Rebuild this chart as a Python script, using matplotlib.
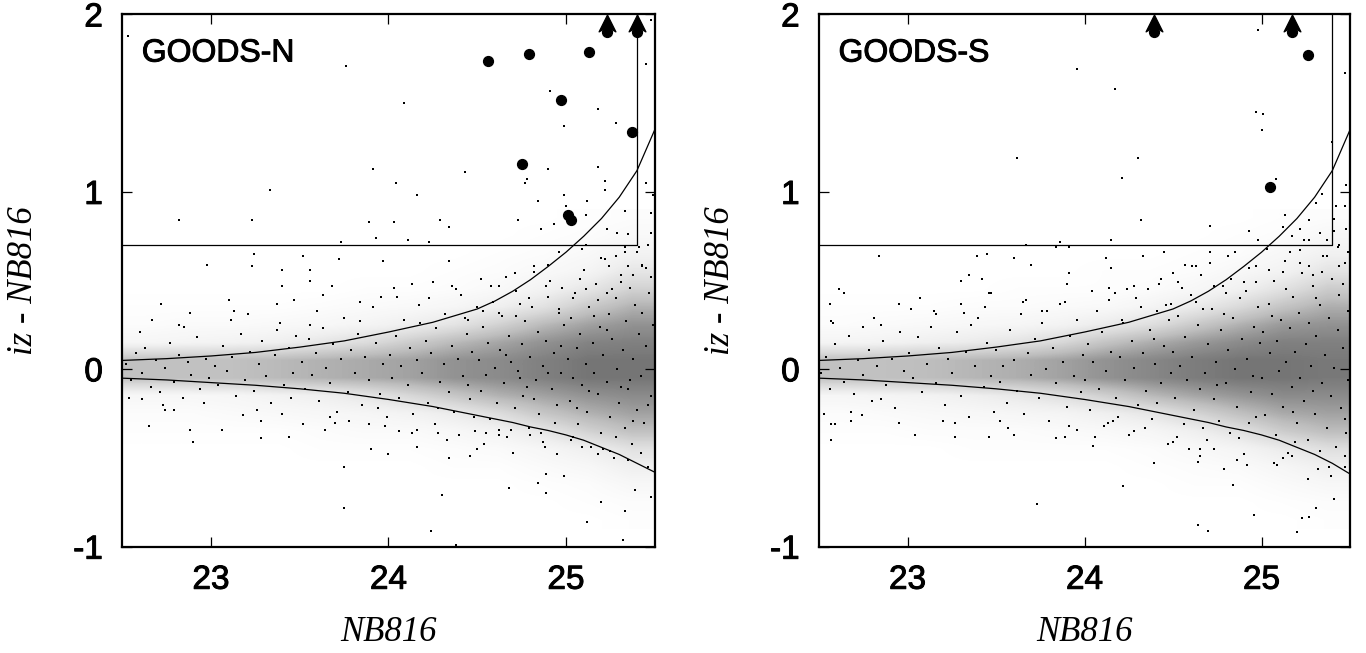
import matplotlib.pyplot as plt
import matplotlib.patheffects as pe
from matplotlib.path import Path
import numpy as np

plt.rcParams['axes.unicode_minus'] = False

# ---- GOODS-N ----
gn_big_x = [24.56, 24.79, 25.13, 24.97, 25.37, 24.75, 25.01, 25.03]
gn_big_y = [1.74, 1.78, 1.79, 1.52, 1.34, 1.16, 0.87, 0.84]
gn_limit_x = [25.23, 25.40]
gn_limit_y = [1.90, 1.90]

# sparse sources read one by one
gn_field = [(22.53, 1.88), (23.76, 1.71), (24.09, 1.50), (23.33, 1.01), (23.91, 1.13), (24.04, 1.05),
            (24.16, 0.98), (24.43, 1.11), (22.82, 0.84), (23.23, 0.84), (23.89, 0.83), (24.03, 0.83),
            (24.29, 0.84), (24.34, 0.80), (23.73, 0.72), (23.93, 0.74), (24.11, 0.73), (24.23, 0.72),
            (24.73, 0.84), (24.77, 1.05), (24.78, 1.07), (24.84, 0.95), (24.90, 1.13), (24.91, 1.57),
            (24.99, 1.37), (24.99, 0.98), (25.00, 0.92), (25.12, 0.95), (25.18, 1.47), (25.18, 1.14),
            (25.22, 1.01), (25.22, 1.06), (25.28, 1.39), (25.33, 0.89), (25.45, 1.72), (25.45, 1.05),
            (25.48, 1.97), (24.86, 0.79), (24.93, 0.82), (25.11, 0.87), (25.23, 0.79), (25.29, 0.77),
            (25.35, 0.76), (25.49, 0.98), (25.48, 0.88), (25.48, 0.77),
            (23.24, 0.65), (23.23, 0.58), (22.98, 0.59), (23.52, 0.64), (23.72, 0.62), (23.97, 0.61),
            (23.56, 0.56), (23.56, 0.50), (23.40, 0.56), (23.40, 0.47), (23.68, 0.47), (23.10, 0.39),
            (22.72, 0.37), (22.88, 0.32), (22.67, 0.28), (22.82, 0.25), (23.13, 0.33), (23.37, 0.37),
            (23.47, 0.39), (23.63, 0.42), (23.84, 0.38), (23.96, 0.41), (24.03, 0.46), (24.13, 0.48),
            (24.25, 0.49), (24.34, 0.61), (24.36, 0.47), (24.52, 0.51), (24.62, 0.47), (24.71, 0.54),
            (24.82, 0.58), (24.90, 0.59), (24.96, 0.66), (25.09, 0.68), (25.20, 0.63), (25.24, 0.58),
            (25.28, 0.64), (25.33, 0.69), (25.40, 0.66), (25.46, 0.70), (25.43, 0.58), (25.38, 0.53),
            (25.31, 0.49), (25.23, 0.43), (25.18, 0.39), (25.11, 0.45), (25.04, 0.40), (24.96, 0.34),
            (24.89, 0.47), (24.79, 0.40), (24.72, 0.30), (24.62, 0.32), (24.50, 0.35), (24.45, 0.28),
            (22.65, -0.32), (22.90, -0.41), (22.88, -0.34), (23.06, -0.34), (23.28, -0.39), (23.44, -0.38),
            (23.64, -0.34), (23.75, -0.55), (23.75, -0.78), (23.90, -0.45), (24.00, -0.48), (24.16, -0.44),
            (24.24, -0.91), (24.30, -0.71), (24.34, -0.50), (24.38, -0.99), (24.46, -0.49), (24.50, -0.45),
            (24.68, -0.67), (24.84, -0.64), (24.89, -0.59), (24.89, -0.70), (24.99, -0.60), (24.95, -0.48),
            (25.12, -0.86), (25.20, -0.75), (25.32, -0.96), (25.33, -0.80), (25.39, -0.68), (25.48, -0.72),
            (25.35, -0.51), (25.42, -0.47), (25.25, -0.46), (25.18, -0.48), (25.09, -0.44), (25.04, -0.38),
            (24.87, -0.41), (24.80, -0.37), (24.69, -0.34), (24.62, -0.37), (24.55, -0.36), (24.40, -0.37),
            (24.28, -0.36), (24.16, -0.34), (24.06, -0.35), (23.98, -0.32), (23.89, -0.31), (23.78, -0.29),
            (23.67, -0.27), (23.52, -0.31), (23.40, -0.25), (23.28, -0.29), (23.18, -0.26), (22.96, -0.19),
            (22.79, -0.23), (22.74, -0.23), (22.61, -0.17), (22.54, -0.16)]

# sample of the crowded locus
gn_core = [(22.52, 0.03), (22.55, -0.06), (22.58, 0.09), (22.61, -0.02), (22.63, 0.12), (22.66, -0.10),
           (22.69, 0.05), (22.71, -0.13), (22.74, 0.01), (22.77, 0.15), (22.79, -0.07), (22.82, 0.08),
           (22.84, -0.16), (22.87, 0.04), (22.89, -0.03), (22.92, 0.18), (22.94, -0.11), (22.97, 0.06),
           (22.99, -0.05), (22.60, 0.21), (22.85, 0.24), (22.73, -0.20),
           (23.02, 0.02), (23.04, -0.09), (23.07, 0.13), (23.09, -0.01), (23.12, 0.07), (23.14, -0.15),
           (23.17, 0.20), (23.19, -0.06), (23.22, 0.10), (23.24, -0.12), (23.27, 0.03), (23.29, 0.16),
           (23.31, -0.04), (23.34, -0.19), (23.36, 0.08), (23.39, 0.26), (23.41, -0.09), (23.44, 0.12),
           (23.46, -0.02), (23.48, 0.19), (23.11, 0.28), (23.26, -0.23), (23.37, 0.22), (23.45, -0.16),
           (23.21, 0.31),
           (23.51, 0.04), (23.53, -0.11), (23.55, 0.17), (23.57, -0.03), (23.59, 0.09), (23.61, -0.18),
           (23.63, 0.23), (23.65, 0.01), (23.67, -0.08), (23.69, 0.14), (23.71, -0.24), (23.73, 0.06),
           (23.75, 0.29), (23.77, -0.13), (23.79, 0.11), (23.81, -0.02), (23.83, 0.20), (23.85, -0.20),
           (23.87, 0.07), (23.89, -0.06), (23.91, 0.35), (23.93, 0.15), (23.95, -0.14), (23.97, 0.03),
           (23.99, -0.27), (23.60, 0.33), (23.70, -0.30), (23.84, 0.27), (23.94, -0.22), (23.56, 0.25),
           (24.01, 0.08), (24.02, -0.05), (24.04, 0.19), (24.06, -0.16), (24.07, 0.02), (24.09, 0.28),
           (24.11, -0.09), (24.12, 0.12), (24.14, -0.25), (24.16, 0.05), (24.17, 0.36), (24.19, -0.02),
           (24.21, 0.16), (24.22, -0.19), (24.24, 0.09), (24.26, -0.31), (24.27, 0.23), (24.29, -0.07),
           (24.31, 0.03), (24.32, 0.31), (24.34, -0.13), (24.36, 0.13), (24.37, -0.24), (24.39, 0.06),
           (24.41, 0.42), (24.42, -0.04), (24.44, 0.20), (24.46, -0.17), (24.47, 0.10), (24.49, -0.35),
           (24.05, 0.41), (24.13, -0.36), (24.23, 0.40), (24.33, -0.40), (24.43, 0.29), (24.48, -0.27),
           (24.18, 0.26), (24.28, -0.22), (24.38, 0.45), (24.45, -0.09),
           (24.51, 0.05), (24.52, -0.12), (24.53, 0.24), (24.55, -0.03), (24.56, 0.15), (24.57, -0.28),
           (24.59, 0.38), (24.60, 0.01), (24.61, -0.19), (24.63, 0.11), (24.64, 0.30), (24.65, -0.08),
           (24.67, -0.38), (24.68, 0.19), (24.69, 0.04), (24.71, -0.22), (24.72, 0.44), (24.73, -0.01),
           (24.75, 0.14), (24.76, -0.15), (24.77, 0.27), (24.79, -0.33), (24.80, 0.07), (24.81, 0.35),
           (24.83, -0.06), (24.84, 0.21), (24.85, -0.25), (24.87, 0.02), (24.88, -0.44), (24.89, 0.16),
           (24.91, 0.50), (24.92, -0.11), (24.93, 0.09), (24.95, -0.20), (24.96, 0.32), (24.97, -0.02),
           (24.99, 0.25), (24.54, -0.42), (24.58, 0.47), (24.62, -0.34), (24.66, 0.52), (24.70, -0.47),
           (24.74, 0.37), (24.78, -0.10), (24.82, 0.55), (24.86, -0.36), (24.90, 0.41), (24.94, -0.30),
           (24.98, 0.46), (24.66, 0.08), (24.74, -0.05), (24.82, -0.17), (24.90, -0.02), (24.97, 0.13),
           (24.53, 0.33),
           (25.01, 0.06), (25.02, -0.18), (25.03, 0.29), (25.04, -0.05), (25.05, 0.43), (25.06, 0.12),
           (25.07, -0.31), (25.08, 0.20), (25.09, -0.09), (25.10, 0.56), (25.11, 0.03), (25.12, -0.24),
           (25.13, 0.35), (25.14, -0.44), (25.15, 0.15), (25.16, -0.02), (25.17, 0.48), (25.18, -0.14),
           (25.19, 0.24), (25.20, -0.36), (25.21, 0.08), (25.22, 0.62), (25.23, -0.07), (25.24, 0.31),
           (25.25, -0.27), (25.26, 0.17), (25.27, -0.50), (25.28, 0.40), (25.29, 0.00), (25.30, -0.19),
           (25.31, 0.53), (25.32, 0.11), (25.33, -0.33), (25.34, 0.27), (25.35, -0.11), (25.36, 0.46),
           (25.37, -0.42), (25.38, 0.06), (25.39, 0.36), (25.40, -0.23), (25.41, 0.20), (25.42, -0.04),
           (25.43, 0.59), (25.44, -0.30), (25.45, 0.13), (25.46, -0.55), (25.47, 0.43), (25.48, -0.15),
           (25.49, 0.25), (25.03, -0.40), (25.08, 0.51), (25.13, -0.12), (25.18, 0.39), (25.23, 0.22),
           (25.28, -0.38), (25.33, 0.66), (25.38, -0.29), (25.43, 0.32), (25.48, 0.52), (25.06, -0.22),
           (25.16, 0.30), (25.26, 0.45), (25.36, -0.06), (25.46, -0.20), (25.11, 0.70), (25.21, -0.45),
           (25.31, -0.10), (25.41, 0.69), (25.45, 0.57), (25.35, 0.58)]

# how dark the crowded locus looks: rows y = 0.85 ... -0.85, columns NB816 = 22.625 ... 25.375
gn_density = [
    [0, 0, 0, 0, 0, 0, 0, 0, 0, 0, .01, .02],
    [0, 0, 0, 0, 0, 0, 0, 0, 0, .01, .02, .04],
    [0, 0, 0, 0, 0, 0, 0, 0, .01, .02, .04, .08],
    [0, 0, 0, 0, 0, 0, 0, .01, .02, .04, .07, .14],
    [0, 0, 0, 0, 0, .01, .01, .02, .04, .08, .14, .22],
    [.01, .01, .01, .01, .02, .03, .04, .06, .10, .16, .25, .32],
    [.02, .03, .03, .04, .05, .07, .10, .15, .22, .30, .36, .40],
    [.06, .07, .08, .10, .14, .18, .24, .30, .35, .40, .44, .45],
    [.28, .28, .28, .30, .32, .34, .36, .40, .42, .45, .48, .48],
    [.28, .28, .28, .30, .32, .34, .36, .40, .42, .45, .48, .48],
    [.05, .05, .06, .08, .10, .14, .20, .26, .32, .36, .40, .42],
    [.02, .02, .03, .04, .05, .06, .08, .12, .18, .26, .32, .36],
    [.01, .01, .01, .01, .02, .03, .03, .05, .08, .14, .22, .28],
    [0, 0, 0, 0, .01, .01, .01, .02, .03, .06, .10, .16],
    [0, 0, 0, 0, 0, 0, 0, .01, .01, .03, .05, .10],
    [0, 0, 0, 0, 0, 0, 0, 0, 0, .01, .02, .05],
    [0, 0, 0, 0, 0, 0, 0, 0, 0, 0, .01, .02],
    [0, 0, 0, 0, 0, 0, 0, 0, 0, 0, 0, .01]]

curve_x = [22.5, 22.75, 23.0, 23.25, 23.5, 23.75, 24.0, 24.25, 24.5, 24.6, 24.7, 24.8, 24.9,
           25.0, 25.1, 25.2, 25.3, 25.4, 25.5]
gn_upper = [0.05, 0.06, 0.075, 0.095, 0.125, 0.16, 0.21, 0.265, 0.34, 0.385, 0.44, 0.505, 0.58,
            0.66, 0.75, 0.85, 0.97, 1.12, 1.35]
gn_lower = [-0.05, -0.06, -0.075, -0.09, -0.11, -0.135, -0.17, -0.21, -0.26, -0.28, -0.30, -0.325,
            -0.345, -0.37, -0.40, -0.44, -0.48, -0.53, -0.58]

# ---- GOODS-S ----
gs_big_x = [25.26, 25.05]
gs_big_y = [1.77, 1.03]
gs_limit_x = [24.39, 25.17]
gs_limit_y = [1.90, 1.90]

gs_field = [(23.96, 1.69), (24.17, 1.58), (24.98, 1.91), (24.97, 1.45), (25.01, 1.44), (25.00, 1.35),
            (23.62, 1.19), (24.30, 1.19), (24.21, 1.08), (25.08, 1.07), (24.32, 0.84), (24.71, 0.81),
            (24.15, 0.73), (24.93, 0.78), (24.98, 0.73), (25.13, 0.87), (25.12, 0.80), (25.17, 0.75),
            (25.22, 0.79), (25.27, 0.73), (25.33, 0.77), (25.27, 0.84), (25.34, 0.99), (25.31, 0.94),
            (25.40, 1.28), (25.47, 1.67), (25.48, 1.04), (25.42, 0.92), (25.41, 0.85), (25.47, 0.92),
            (25.48, 0.79), (23.86, 0.72),
            (22.84, 0.64), (23.67, 0.70), (23.84, 0.69), (23.91, 0.69), (23.39, 0.64), (23.45, 0.65),
            (23.60, 0.63), (23.70, 0.59), (23.91, 0.54), (24.15, 0.57), (24.12, 0.63), (24.33, 0.64),
            (24.45, 0.66), (24.71, 0.66), (24.81, 0.64), (24.85, 0.66), (24.57, 0.59), (24.63, 0.58),
            (24.50, 0.54), (24.43, 0.51), (24.28, 0.47), (24.36, 0.45), (24.53, 0.49), (24.73, 0.47),
            (24.80, 0.43), (24.90, 0.49), (24.97, 0.58), (25.04, 0.56), (25.16, 0.66), (25.22, 0.60),
            (25.29, 0.53), (25.37, 0.64), (25.44, 0.58), (25.43, 0.69), (25.49, 0.66), (23.30, 0.50),
            (23.35, 0.53), (23.42, 0.51), (23.47, 0.43), (23.90, 0.48), (24.04, 0.44), (24.14, 0.46),
            (22.61, 0.45), (22.64, 0.43), (22.56, 0.37), (22.95, 0.37), (23.02, 0.34), (23.07, 0.40),
            (23.16, 0.31), (23.30, 0.37), (23.32, 0.32), (23.46, 0.43), (23.65, 0.38), (23.76, 0.33),
            (23.89, 0.38), (24.21, 0.28), (24.41, 0.33), (24.49, 0.37), (24.67, 0.34), (22.85, 0.25),
            (22.58, 0.26), (22.75, 0.24),
            (22.57, -0.40), (22.57, -0.31), (22.59, -0.31), (22.68, -0.29), (22.74, -0.26), (23.04, -0.37),
            (22.95, -0.30), (23.27, -0.38), (23.35, -0.27), (23.46, -0.38), (23.60, -0.37), (23.73, -0.76),
            (23.84, -0.39), (23.96, -0.34), (24.05, -0.43), (24.22, -0.66), (24.39, -0.53), (24.61, -1.00),
            (24.64, -0.88), (24.70, -0.91), (24.84, -0.65), (24.86, -0.51), (24.92, -0.54), (24.96, -0.82),
            (25.07, -0.53), (25.20, -0.92), (25.23, -0.84), (25.27, -0.83), (25.31, -0.78), (25.41, -0.73),
            (25.26, -0.62), (25.12, -0.50), (24.65, -0.49), (24.73, -0.45), (24.50, -0.41), (24.65, -0.45),
            (25.47, -0.49), (25.47, -0.55), (25.38, -0.55), (25.17, -0.49), (24.11, -0.32), (24.28, -0.35),
            (24.16, -0.29), (23.89, -0.38), (23.52, -0.29), (23.20, -0.29), (22.85, -0.17), (22.53, -0.25)]

gs_core = [(22.51, -0.02), (22.54, 0.07), (22.56, -0.11), (22.59, 0.14), (22.62, 0.01), (22.64, -0.07),
           (22.67, 0.19), (22.70, -0.14), (22.72, 0.05), (22.75, -0.03), (22.78, 0.11), (22.80, -0.18),
           (22.83, 0.02), (22.86, 0.16), (22.88, -0.09), (22.91, 0.06), (22.93, -0.22), (22.96, 0.21),
           (22.98, -0.01), (22.57, 0.27), (22.81, 0.29), (22.68, -0.24),
           (23.01, 0.09), (23.03, -0.05), (23.06, 0.18), (23.08, -0.13), (23.11, 0.03), (23.13, 0.24),
           (23.16, -0.08), (23.18, 0.12), (23.21, -0.20), (23.23, 0.06), (23.25, -0.02), (23.28, 0.21),
           (23.30, -0.15), (23.33, 0.10), (23.35, -0.27), (23.38, 0.02), (23.40, 0.29), (23.43, -0.10),
           (23.45, 0.15), (23.47, -0.04), (23.49, -0.24), (23.15, 0.33), (23.27, -0.30), (23.36, 0.25),
           (23.44, 0.35),
           (23.50, 0.11), (23.52, -0.07), (23.54, 0.02), (23.56, -0.19), (23.58, 0.22), (23.60, 0.05),
           (23.62, -0.12), (23.64, 0.31), (23.66, -0.25), (23.68, 0.09), (23.70, -0.03), (23.72, 0.17),
           (23.74, -0.16), (23.76, 0.26), (23.78, 0.00), (23.80, -0.29), (23.82, 0.12), (23.84, -0.08),
           (23.86, 0.37), (23.88, 0.04), (23.90, -0.21), (23.92, 0.19), (23.94, -0.04), (23.96, 0.28),
           (23.98, -0.13), (23.57, -0.33), (23.67, 0.39), (23.79, 0.33), (23.91, -0.32), (23.99, 0.08),
           (24.00, -0.06), (24.02, 0.14), (24.03, -0.23), (24.05, 0.04), (24.07, 0.33), (24.08, -0.11),
           (24.10, 0.21), (24.12, -0.01), (24.13, -0.30), (24.15, 0.10), (24.17, 0.43), (24.18, -0.16),
           (24.20, 0.07), (24.22, 0.26), (24.23, -0.06), (24.25, -0.37), (24.27, 0.16), (24.28, 0.01),
           (24.30, -0.20), (24.32, 0.35), (24.33, 0.09), (24.35, -0.12), (24.37, 0.22), (24.38, -0.28),
           (24.40, 0.03), (24.42, 0.48), (24.43, -0.08), (24.45, 0.13), (24.47, -0.42), (24.48, 0.28),
           (24.06, -0.38), (24.14, 0.39), (24.24, 0.45), (24.34, -0.33), (24.41, -0.19), (24.49, -0.02),
           (24.19, -0.27), (24.29, 0.40), (24.39, 0.17), (24.46, 0.36),
           (24.50, 0.10), (24.51, -0.16), (24.53, 0.30), (24.54, 0.02), (24.56, -0.31), (24.57, 0.18),
           (24.58, -0.06), (24.60, 0.42), (24.61, 0.07), (24.62, -0.23), (24.64, 0.25), (24.65, -0.11),
           (24.66, 0.53), (24.68, -0.02), (24.69, -0.40), (24.70, 0.14), (24.72, 0.34), (24.73, -0.17),
           (24.74, 0.04), (24.76, -0.29), (24.77, 0.22), (24.78, 0.47), (24.80, -0.08), (24.81, 0.11),
           (24.82, -0.36), (24.84, 0.29), (24.85, 0.00), (24.86, -0.21), (24.88, 0.40), (24.89, 0.17),
           (24.90, -0.48), (24.92, 0.06), (24.93, 0.57), (24.94, -0.13), (24.96, 0.24), (24.97, -0.27),
           (24.98, 0.35), (24.55, 0.46), (24.59, -0.45), (24.63, 0.38), (24.67, -0.33), (24.71, 0.60),
           (24.75, -0.09), (24.79, 0.31), (24.83, 0.51), (24.87, -0.39), (24.91, 0.44), (24.95, -0.04),
           (24.99, 0.15), (24.52, -0.38), (24.64, -0.52), (24.79, -0.56), (24.93, -0.30), (24.97, 0.49),
           (24.61, 0.58),
           (25.00, -0.05), (25.01, 0.21), (25.02, -0.26), (25.04, 0.37), (25.05, 0.09), (25.06, -0.14),
           (25.07, 0.50), (25.08, -0.37), (25.09, 0.16), (25.10, -0.01), (25.11, 0.28), (25.12, -0.21),
           (25.13, 0.61), (25.14, 0.04), (25.15, -0.47), (25.16, 0.23), (25.17, -0.10), (25.18, 0.41),
           (25.19, 0.10), (25.20, -0.30), (25.21, 0.32), (25.22, -0.05), (25.23, 0.54), (25.24, -0.18),
           (25.25, 0.14), (25.26, -0.40), (25.27, 0.26), (25.28, 0.02), (25.29, 0.47), (25.30, -0.25),
           (25.31, 0.19), (25.32, -0.56), (25.33, 0.36), (25.34, -0.08), (25.35, 0.64), (25.36, 0.08),
           (25.37, -0.33), (25.38, 0.29), (25.39, -0.15), (25.40, 0.51), (25.41, 0.01), (25.42, -0.44),
           (25.43, 0.22), (25.44, 0.42), (25.45, -0.22), (25.46, 0.12), (25.47, 0.60), (25.48, -0.36),
           (25.49, 0.33), (25.03, 0.68), (25.09, -0.54), (25.14, 0.45), (25.19, -0.41), (25.24, 0.73),
           (25.29, -0.12), (25.34, 0.55), (25.39, -0.60), (25.44, 0.70), (25.49, -0.06), (25.06, 0.30),
           (25.12, 0.55), (25.18, -0.24), (25.27, 0.58), (25.33, -0.46), (25.41, 0.78), (25.46, 0.48),
           (25.22, 0.67), (25.31, 0.40), (25.37, 0.73), (25.47, -0.28)]

gs_density = [
    [0, 0, 0, 0, 0, 0, 0, 0, 0, 0, .01, .02],
    [0, 0, 0, 0, 0, 0, 0, 0, 0, .01, .02, .05],
    [0, 0, 0, 0, 0, 0, 0, 0, .01, .02, .05, .09],
    [0, 0, 0, 0, 0, 0, .01, .01, .02, .05, .08, .15],
    [0, 0, 0, 0, .01, .01, .01, .02, .05, .09, .16, .24],
    [.01, .01, .01, .02, .02, .03, .04, .07, .12, .19, .27, .33],
    [.02, .03, .04, .05, .06, .08, .12, .17, .25, .32, .38, .40],
    [.07, .08, .10, .12, .15, .20, .27, .33, .38, .42, .45, .45],
    [.28, .28, .29, .31, .33, .36, .40, .43, .46, .48, .48, .47],
    [.28, .28, .29, .31, .33, .36, .40, .43, .46, .48, .48, .47],
    [.06, .07, .08, .10, .13, .17, .23, .30, .35, .39, .42, .42],
    [.02, .03, .04, .05, .06, .07, .10, .14, .21, .28, .34, .36],
    [.01, .01, .02, .02, .02, .03, .04, .06, .10, .16, .24, .29],
    [0, 0, 0, .01, .01, .01, .01, .02, .04, .07, .12, .17],
    [0, 0, 0, 0, 0, 0, 0, .01, .02, .03, .06, .10],
    [0, 0, 0, 0, 0, 0, 0, 0, .01, .01, .03, .05],
    [0, 0, 0, 0, 0, 0, 0, 0, 0, 0, .01, .02],
    [0, 0, 0, 0, 0, 0, 0, 0, 0, 0, 0, .01]]

gs_upper = [0.05, 0.06, 0.075, 0.095, 0.125, 0.16, 0.21, 0.265, 0.34, 0.385, 0.44, 0.505, 0.58,
            0.66, 0.75, 0.85, 0.97, 1.12, 1.35]
gs_lower = [-0.05, -0.06, -0.075, -0.09, -0.11, -0.135, -0.17, -0.21, -0.26, -0.28, -0.30, -0.325,
            -0.345, -0.37, -0.40, -0.44, -0.48, -0.53, -0.59]

box_x = 25.4
box_y = 0.7

heavy = [pe.withStroke(linewidth=0.7, foreground='k')]

# notched arrow head used for the lower limits
head = Path([(0, 0.5), (0.5, -0.5), (0, -0.2), (-0.5, -0.5), (0, 0.5)],
            [Path.MOVETO, Path.LINETO, Path.LINETO, Path.LINETO, Path.CLOSEPOLY])


def draw_panel(ax, name, field, core, density, big_x, big_y, lim_x, lim_y, up, lo):
    ax.imshow(np.array(density), extent=[22.5, 25.5, -0.9, 0.9], cmap='Greys', vmin=0, vmax=0.78,
              interpolation='bilinear', aspect='auto', zorder=0)
    pts = np.array(field + core)
    ax.scatter(pts[:, 0], pts[:, 1], s=2.5, marker='s', c='k', linewidths=0, zorder=2)
    ax.plot(curve_x, up, color='k', lw=0.9, zorder=3)
    ax.plot(curve_x, lo, color='k', lw=0.9, zorder=3)
    ax.plot([22.5, box_x, box_x], [box_y, box_y, 2.0], color='k', lw=0.9, zorder=3)
    ax.scatter(big_x, big_y, s=50, c='k', zorder=5)
    ax.scatter(lim_x, lim_y, s=50, c='k', zorder=5)
    for x, y in zip(lim_x, lim_y):
        ax.plot([x, x], [y, 1.97], color='k', lw=1.5, zorder=5)
        ax.plot([x], [1.952], marker=head, markersize=12, color='k', linestyle='none', zorder=6)
    t = ax.text(22.61, 1.78, name, fontsize=23, family='Liberation Sans', ha='left', va='center')
    t.set_path_effects(heavy)

    ax.set_xlim(22.5, 25.5)
    ax.set_ylim(-1, 2)
    ax.set_xticks([23, 24, 25])
    ax.set_yticks([-1, 0, 1, 2])
    ax.set_xticklabels(['23', '24', '25'])
    ax.set_yticklabels(['-1', '0', '1', '2'])
    ax.tick_params(direction='in', top=True, right=True, length=7, width=0.9,
                   labelsize=24)
    ax.tick_params(axis='x', pad=13)
    ax.tick_params(axis='y', pad=14)
    for lab in ax.get_xticklabels() + ax.get_yticklabels():
        lab.set_family('Liberation Sans')
        lab.set_path_effects(heavy)
    for sp in ax.spines.values():
        sp.set_linewidth(1.6)
    ax.text(0.5, -0.162, 'NB816', transform=ax.transAxes, ha='center', va='center',
            fontsize=25, family='Liberation Serif', style='italic')
    ax.text(-0.186, 0.5, 'iz - NB816', transform=ax.transAxes, ha='center', va='center',
            rotation=90, fontsize=25, family='Liberation Serif', style='italic')


fig = plt.figure(figsize=(13.66, 6.53), dpi=100)
ax1 = fig.add_axes([0.0895, 0.1628, 0.3898, 0.815])
ax2 = fig.add_axes([0.5996, 0.1628, 0.3887, 0.815])

draw_panel(ax1, 'GOODS-N', gn_field, gn_core, gn_density, gn_big_x, gn_big_y,
           gn_limit_x, gn_limit_y, gn_upper, gn_lower)
draw_panel(ax2, 'GOODS-S', gs_field, gs_core, gs_density, gs_big_x, gs_big_y,
           gs_limit_x, gs_limit_y, gs_upper, gs_lower)

plt.savefig('out.png', dpi=100)
